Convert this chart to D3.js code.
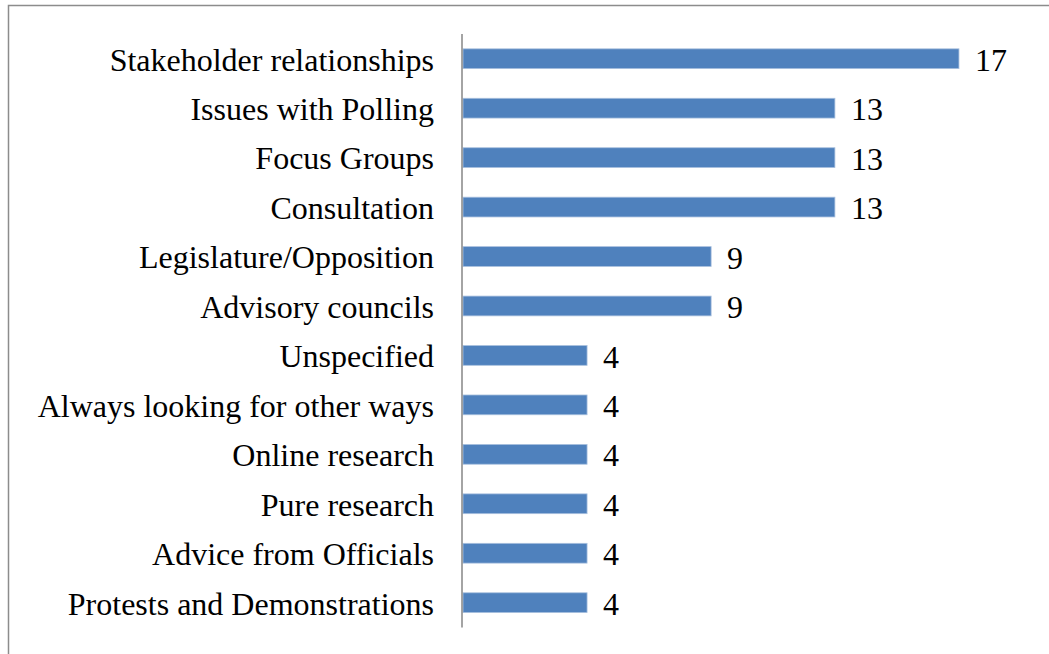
<!DOCTYPE html>
<html>
<head>
<meta charset="utf-8">
<script src="https://cdn.jsdelivr.net/npm/d3@7"></script>
<style>
  html, body { margin: 0; padding: 0; background: #fff; }
  svg { display: block; }
  text { font-family: "Liberation Serif", "Times New Roman", serif; fill: #000; }
</style>
</head>
<body>
<svg id="chart" width="1049" height="654"></svg>
<script>
// Share of respondents (%) naming each way of gauging public opinion
const categories = [
  "Stakeholder relationships",
  "Issues with Polling",
  "Focus Groups",
  "Consultation",
  "Legislature/Opposition",
  "Advisory councils",
  "Unspecified",
  "Always looking for other ways",
  "Online research",
  "Pure research",
  "Advice from Officials",
  "Protests and Demonstrations"
];
const values = [17.39, 13.04, 13.04, 13.04, 8.70, 8.70, 4.35, 4.35, 4.35, 4.35, 4.35, 4.35];
const axisMax = 20;

const data = categories.map((c, i) => ({ category: c, value: values[i] }));

const svg = d3.select("#chart");

// Outer frame (extends past the right and bottom edges)
svg.append("rect")
  .attr("x", 8.5).attr("y", 5.5)
  .attr("width", 1100).attr("height", 700)
  .attr("fill", "none")
  .attr("stroke", "#8c8c8c")
  .attr("stroke-width", 1.5);

const plotLeft = 463;
const x = d3.scaleLinear().domain([0, axisMax]).range([plotLeft, plotLeft + 570.4]);
const y = d3.scaleBand()
  .domain(categories)
  .range([34, 627.4])
  .paddingInner(0.6)
  .paddingOuter(0.3);

// Bars
svg.append("g")
  .selectAll("rect")
  .data(data)
  .join("rect")
  .attr("x", x(0))
  .attr("y", d => y(d.category))
  .attr("width", d => x(d.value) - x(0))
  .attr("height", y.bandwidth())
  .attr("fill", "#4F81BD")
  .attr("stroke", "#a9c0de")
  .attr("stroke-width", 0.8);

// Category axis: line only, labels at right edge
const yAxis = d3.axisLeft(y).tickSize(0).tickPadding(28);
const gy = svg.append("g")
  .attr("transform", `translate(${plotLeft - 1},0)`)
  .call(yAxis);
gy.select(".domain").remove();
gy.selectAll("text")
  .attr("font-family", "'Liberation Serif', 'Times New Roman', serif")
  .attr("font-size", "32px")
  .attr("fill", "#000")
  .attr("dy", "0.37em");

svg.append("line")
  .attr("x1", plotLeft - 1).attr("x2", plotLeft - 1)
  .attr("y1", 34).attr("y2", 627.5)
  .attr("stroke", "#868686")
  .attr("stroke-width", 1.5);

// Value labels
const fmt = d3.format(".0f");
svg.append("g")
  .selectAll("text")
  .data(data)
  .join("text")
  .attr("x", d => x(d.value) + 16)
  .attr("y", d => y(d.category) + y.bandwidth() / 2)
  .attr("dy", "0.38em")
  .attr("font-size", "32px")
  .text(d => fmt(d.value));
</script>
</body>
</html>
